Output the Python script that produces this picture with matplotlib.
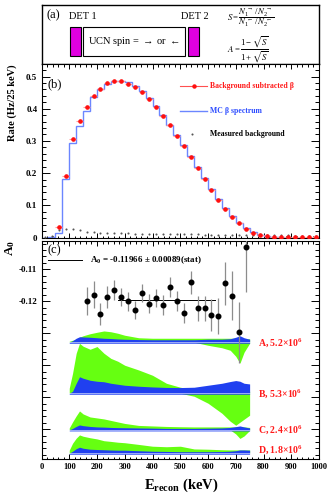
import matplotlib
matplotlib.use("Agg")
import matplotlib.pyplot as plt
from matplotlib.patches import Rectangle
from matplotlib.ticker import MultipleLocator, FuncFormatter
import numpy as np

plt.rcParams['font.family'] = 'Liberation Serif'
plt.rcParams['mathtext.fontset'] = 'stix'
plt.rcParams['mathtext.default'] = 'regular'

# ---- panel (b): spectra, 25 keV bins
edges = np.arange(0, 1025, 25)
centers = edges[:-1] + 12.5
mc_rate = [0.0, 0.002, 0.015, 0.182, 0.294, 0.347, 0.394, 0.435, 0.461, 0.477,
           0.486, 0.487, 0.482, 0.471, 0.455, 0.434, 0.410, 0.381, 0.351, 0.319,
           0.286, 0.252, 0.218, 0.184, 0.151, 0.120, 0.091, 0.066, 0.045, 0.028,
           0.016, 0.008, 0.004, 0.002, 0.001, 0.0, 0.0, 0.0, 0.0, 0.0]
sub_E = centers[2:]
sub_rate = [0.033, 0.192, 0.305, 0.363, 0.405, 0.439, 0.462, 0.479, 0.486, 0.485,
            0.478, 0.467, 0.452, 0.429, 0.406, 0.377, 0.348, 0.315, 0.284, 0.251,
            0.215, 0.183, 0.148, 0.118, 0.089, 0.065, 0.044, 0.026, 0.014, 0.009,
            0.005, 0.003, 0.002, 0.002, 0.001, 0.001, 0.001, 0.001]
bkg_rate = [0.003, 0.005, 0.022, 0.026, 0.026, 0.022, 0.018, 0.016, 0.015, 0.014,
            0.014, 0.013, 0.013, 0.012, 0.012, 0.012, 0.011, 0.011, 0.011, 0.010,
            0.010, 0.010, 0.010, 0.009, 0.009, 0.009, 0.009, 0.008, 0.008, 0.008,
            0.008, 0.007, 0.007, 0.007, 0.007, 0.007, 0.006, 0.006, 0.006, 0.006]

# ---- panel (c): asymmetry
a0_E = [162.5, 187.5, 212.5, 237.5, 262.5, 287.5, 312.5, 337.5, 362.5, 387.5,
        412.5, 437.5, 462.5, 487.5, 512.5, 537.5, 562.5, 587.5, 612.5, 637.5,
        662.5, 687.5, 712.5, 737.5]
a0_val = [-0.1200, -0.1179, -0.1239, -0.1187, -0.1166, -0.1186, -0.1200, -0.1227,
          -0.1174, -0.1207, -0.1190, -0.1211, -0.1155, -0.1199, -0.1237, -0.1141,
          -0.1222, -0.1222, -0.1244, -0.1246, -0.1144, -0.1183, -0.1297, -0.1030]
a0_err = [0.0044, 0.0043, 0.0035, 0.0034, 0.0031, 0.0028, 0.0030, 0.0028,
          0.0029, 0.0029, 0.0029, 0.0032, 0.0031, 0.0030, 0.0031, 0.0037,
          0.0040, 0.0040, 0.0050, 0.0056, 0.0068, 0.0077, 0.0096, 0.0140]
a0_fit = -0.11966
fit_range = [275, 625]

# systematic bands (offsets in units of 1e-3 around each baseline)
band_E = [100, 112, 125, 137, 150, 175, 200, 225, 250, 275, 300, 350, 400, 450,
          500, 550, 600, 650, 680, 700, 715, 730, 750]
band_labels = ['A, 5.2$\\times$10$^{6}$', 'B, 5.3$\\times$10$^{6}$',
               'C, 2.4$\\times$10$^{6}$', 'D, 1.8$\\times$10$^{6}$']
band_base = [-0.13281, -0.14875, -0.16022, -0.1675]
blue_hi = [
    [0, 0.47, 1.25, 1.72, 1.66, 1.56, 1.41, 1.25, 1.16, 1.03, 0.94, 0.84, 0.78,
     0.78, 0.78, 0.78, 0.94, 0.94, 1.09, 1.56, 2.03, 1.41, 0.94],
    [0, 0.62, 3.12, 5.16, 4.69, 4.06, 3.75, 3.59, 3.12, 2.81, 2.5, 2.19, 1.97,
     1.81, 1.78, 1.88, 2.5, 3.12, 3.66, 3.97, 3.75, 3.12, 2.91],
    [0, 0.47, 1.09, 1.56, 1.34, 1.09, 0.94, 0.88, 0.78, 0.72, 0.69, 0.62, 0.56,
     0.47, 0.47, 0.47, 0.53, 0.62, 0.78, 1.03, 1.25, 0.94, 0.62],
    [0, 0.62, 1.41, 1.88, 1.56, 1.25, 1.16, 1.09, 1.0, 0.94, 0.94, 0.78, 0.62,
     0.56, 0.47, 0.47, 0.47, 0.53, 0.62, 0.78, 1.03, 1.03, 0.94],
]
green_hi = [
    [0.31, 0.62, 0.94, 1.56, 2.03, 2.66, 3.12, 3.53, 3.28, 2.81, 2.19, 1.41, 1.25,
     1.25, 1.25, 1.25, 1.25, 1.25, 1.25, 1.25, 1.25, 1.09, 1.09],
    [1.56, 6.25, 12.5, 15.6, 14.7, 13.75, 14.6, 12.5, 10.9, 10.0, 8.75, 7.28, 5.62,
     3.12, 1.88, 1.25, 0.62, 0.62, 0.62, 0.62, 0.62, 0.62, 0.62],
    [0.62, 2.5, 4.38, 5.94, 5.0, 4.06, 3.75, 3.44, 2.97, 2.5, 2.03, 1.41, 1.25,
     1.09, 1.0, 0.94, 0.94, 0.94, 0.94, 0.94, 0.94, 0.94, 0.78],
    [0.94, 3.12, 4.69, 5.72, 5.31, 4.84, 4.47, 3.91, 3.69, 3.44, 3.28, 2.75, 2.19,
     2.03, 2.19, 1.34, 1.25, 1.09, 1.03, 1.03, 1.03, 1.03, 1.03],
]
green_lo = [
    [0, 0, 0, 0, 0, 0, 0, 0, 0, 0, 0, 0, 0, 0, 0, 0, -0.94, -1.72, -2.5, -4.38,
     -6.56, -3.12, -0.31],
    [0, 0, 0, 0, 0, 0, 0, 0, 0, 0, 0, 0, 0, 0, 0, -0.94, -3.12, -6.25, -8.75,
     -10.0, -9.06, -8.12, -6.88],
    [0, 0, 0, 0, 0, 0, 0, 0, 0, 0, 0, 0, 0, 0, 0, 0, 0, 0, 0, -1.25, -2.66,
     -1.88, -0.16],
    [0] * 23,
]

W, H = 332, 498
fig = plt.figure(figsize=(W / 100, H / 100), dpi=100)
L = 41.5 / W
Wd = 277.5 / W

def style_ticks(ax):
    ax.tick_params(which='both', direction='in', top=True, right=True, width=0.7)
    ax.tick_params(axis='x', which='major', length=3.6)
    ax.tick_params(axis='x', which='minor', length=1.8)
    ax.tick_params(axis='y', which='major', length=5.8)
    ax.tick_params(axis='y', which='minor', length=2.9)
    for s in ax.spines.values():
        s.set_linewidth(0.8)

# ---------- panel (a)
axa = fig.add_axes([L, 1 - 64.3 / H, Wd, 59.3 / H])
axa.set_xticks([])
axa.set_yticks([])
for s in axa.spines.values():
    s.set_linewidth(1.0)
axa.text(0.018, 0.83, '(a)', fontsize=9, va='center', ha='left')
axa.text(0.1495, 0.80, 'DET 1', fontsize=7.5, va='center', ha='center')
axa.text(0.553, 0.80, 'DET 2', fontsize=7.5, va='center', ha='center')
axa.add_patch(Rectangle((0.1027, 0.14), 0.0386, 0.494, transform=axa.transAxes,
                        fc='#e000e0', ec='black', lw=0.8))
axa.add_patch(Rectangle((0.528, 0.14), 0.0396, 0.494, transform=axa.transAxes,
                        fc='#e000e0', ec='black', lw=0.8))
axa.add_patch(Rectangle((0.1485, 0.14), 0.3686, 0.494, transform=axa.transAxes,
                        fc='white', ec='black', lw=0.8))
axa.text(0.333, 0.38, 'UCN spin = $\\rightarrow$ or $\\leftarrow$', fontsize=7.5,
         va='center', ha='center')
axa.text(0.668, 0.78, '$\\mathit{S} = \\dfrac{\\mathit{N}_1^{\\rightarrow}\\,/\\,\\mathit{N}_2^{\\rightarrow}}'
         '{\\mathit{N}_1^{\\leftarrow}\\,/\\,\\mathit{N}_2^{\\leftarrow}}$',
         fontsize=6.3, va='center', ha='left')
axa.text(0.668, 0.24, '$\\mathit{A} = \\dfrac{1-\\sqrt{\\mathit{S}}}{1+\\sqrt{\\mathit{S}}}$',
         fontsize=6.3, va='center', ha='left')

# ---------- panel (b)
axb = fig.add_axes([L, 1 - 238.5 / H, Wd, 174.2 / H])
axb.stairs(mc_rate, edges, color='#6b86ff', lw=1.0, zorder=2)
axb.errorbar(sub_E, sub_rate, xerr=12.5, yerr=0.002, fmt='o', ms=2.3, color='#ff1010',
             ecolor='#ff9a9a', elinewidth=0.8, capsize=0, zorder=4)
axb.plot(centers, bkg_rate, 'o', ms=1.5, color='#555555', mew=0, zorder=3)
axb.set_xlim(0, 1000)
axb.set_ylim(-0.0031, 0.538)
axb.xaxis.set_major_locator(MultipleLocator(100))
axb.xaxis.set_minor_locator(MultipleLocator(20))
axb.yaxis.set_major_locator(MultipleLocator(0.1))
axb.yaxis.set_minor_locator(MultipleLocator(0.02))
axb.set_xticklabels([])
axb.yaxis.set_major_formatter(FuncFormatter(lambda v, p: '0' if abs(v) < 1e-9 else '%.1f' % v))
style_ticks(axb)
axb.tick_params(axis='y', labelsize=6.5, pad=3)
for t in axb.get_yticklabels():
    t.set_fontweight('bold')
axb.text(0.02, 0.887, '(b)', transform=axb.transAxes, fontsize=9, va='center')
# legend
tr = axb.transAxes
axb.plot([0.4995, 0.597], [0.875, 0.875], transform=tr, color='#ff5050', lw=0.8, clip_on=False)
axb.plot([0.548], [0.875], 'o', ms=2.2, color='#ff1010', transform=tr, clip_on=False)
axb.text(0.6076, 0.875, 'Background subtracted β', transform=tr, color='#ff1a1a',
         fontsize=5.6, fontweight='bold', va='center')
axb.plot([0.4995, 0.597], [0.734, 0.734], transform=tr, color='#6b86ff', lw=1.0, clip_on=False)
axb.text(0.6076, 0.734, 'MC β spectrum', transform=tr, color='#2d4dff',
         fontsize=5.6, fontweight='bold', va='center')
axb.plot([0.5427], [0.600], 'o', ms=1.5, color='#555555', mew=0, transform=tr, clip_on=False)
axb.text(0.6076, 0.600, 'Measured background', transform=tr, color='black',
         fontsize=5.6, fontweight='bold', va='center')

# ---------- panel (c)
axc = fig.add_axes([L, 1 - 459.3 / H, Wd, 218.8 / H])
for i in range(4):
    b = band_base[i]
    gl = b + np.array(green_lo[i]) * 1e-3
    gh = b + np.array(green_hi[i]) * 1e-3
    bh = b + np.array(blue_hi[i]) * 1e-3
    axc.fill_between(band_E, gl, gh, color='#66ff11', lw=0, zorder=1)
    axc.fill_between(band_E, b - 0.0003, bh, color='#2040f0', lw=0, zorder=2)
    axc.plot([band_E[0], band_E[-1]], [b, b], color='white', lw=0.5, alpha=0.8, zorder=3)
axc.errorbar(a0_E, a0_val, yerr=a0_err, fmt='o', ms=3.3, color='black',
             ecolor='#8c8c8c', elinewidth=0.9, capsize=0, zorder=5)
axc.plot(fit_range, [a0_fit, a0_fit], color='black', lw=0.7, zorder=4)
label_y = [band_base[0], band_base[1], band_base[2], band_base[3] + 0.0012]
for i in range(4):
    axc.text(780, label_y[i], band_labels[i], color='#ff1a1a', fontsize=7,
             fontweight='bold', va='center', ha='left')
axc.set_xlim(0, 1000)
axc.set_ylim(-0.1694, -0.1010)
axc.xaxis.set_major_locator(MultipleLocator(100))
axc.xaxis.set_minor_locator(MultipleLocator(20))
axc.yaxis.set_major_locator(MultipleLocator(0.01))
axc.yaxis.set_minor_locator(MultipleLocator(0.002))
axc.yaxis.set_major_formatter(FuncFormatter(lambda v, p: '%.2f' % v if v > -0.125 else ''))
axc.xaxis.set_major_formatter(FuncFormatter(lambda v, p: '%d' % round(v)))
style_ticks(axc)
axc.tick_params(axis='y', labelsize=6.5, pad=3)
axc.tick_params(axis='x', labelsize=6, pad=2.5)
for t in axc.get_yticklabels() + axc.get_xticklabels():
    t.set_fontweight('bold')
axc.text(0.02, 0.955, '(c)', transform=axc.transAxes, fontsize=9, va='center')
trc = axc.transAxes
axc.plot([0.0234, 0.1461], [0.911, 0.911], transform=trc, color='black', lw=0.7)
axc.text(0.175, 0.911, 'A$_{0}$ = -0.11966 ± 0.00089(stat)', transform=trc,
         fontsize=6.5, fontweight='bold', va='center')

# axis titles
fig.text(12 / W, 1 - 64.5 / H, 'Rate (Hz/25 keV)', rotation=90, ha='center', va='top',
         fontsize=7.5, fontweight='bold')
fig.text(10 / W, 1 - 240 / H, 'A$_{0}$', rotation=90, ha='center', va='top',
         fontsize=9.5, fontweight='bold')
fig.text(181 / W, 1 - 485 / H, 'E$_{recon}$ (keV)', ha='center', va='center',
         fontsize=10.5, fontweight='bold')

fig.savefig('out.png', dpi=100)
